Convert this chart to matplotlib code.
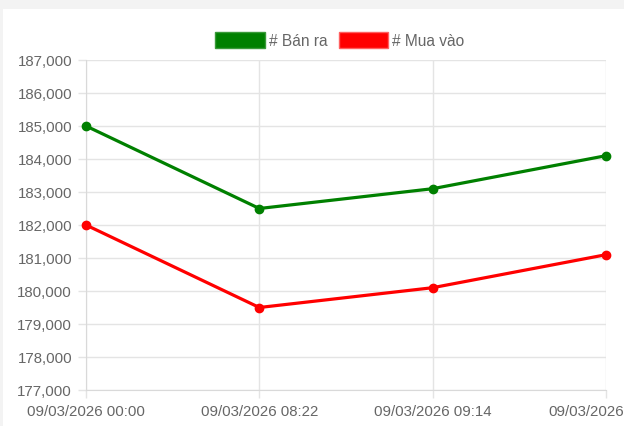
import matplotlib; matplotlib.use("Agg")
import matplotlib.pyplot as plt
import matplotlib.patches as mpatches
import matplotlib.ticker as ticker
from matplotlib.transforms import ScaledTranslation

# data
times    = ["09/03/2026 00:00", "09/03/2026 08:22", "09/03/2026 09:14", "09/03/2026"]
ban_ra   = [185000, 182500, 183100, 184100]
mua_vao  = [182000, 179500, 180100, 181100]

GREEN = "#008000"; RED = "#ff0000"; GRID = "#e4e4e4"; TXT = "#666666"

plt.rcParams["font.family"] = ["Liberation Sans", "DejaVu Sans"]

fig = plt.figure(figsize=(6.24, 4.27), dpi=100, facecolor="#f3f3f3")
fig.add_artist(mpatches.Rectangle((3/624, 0), 1, 1 - 10/427, transform=fig.transFigure,
                                  facecolor="white", edgecolor="none", zorder=-5))

ax = fig.add_axes([86/624, 36/427, 520/624, 330/427])
ax.set_zorder(2)
ax.set_facecolor("none")
x = range(len(times))
ax.plot(x, ban_ra, color=GREEN, lw=2.3, marker="o", ms=6, zorder=3, clip_on=False)
ax.plot(x, mua_vao, color=RED, lw=2.3, marker="o", ms=6, zorder=3, clip_on=False)

ax.set_xlim(0, len(times) - 1)
ax.set_ylim(177000, 187000)
ax.yaxis.set_major_locator(ticker.MultipleLocator(1000))
ax.yaxis.set_major_formatter(ticker.FuncFormatter(lambda v, p: f"{int(v):,}"))
ax.set_xticks(list(x))
ax.set_xticklabels(times)

ax.grid(True, color=GRID, lw=1)
for s in ax.spines.values():
    s.set_visible(False)
ax.spines["left"].set_visible(True); ax.spines["left"].set_color("#d9d9d9")
ax.spines["bottom"].set_visible(True); ax.spines["bottom"].set_color("#d9d9d9")
ax.tick_params(axis="both", colors=GRID, labelcolor=TXT, labelsize=10.8, length=6, width=1)
ax.tick_params(axis="y", pad=4)
ax.tick_params(axis="x", pad=4)

# last label is cut by the page edge in the original; keep the visible part in place
last = ax.get_xticklabels()[-1]
last.set_horizontalalignment("left")
last.set_transform(last.get_transform() + ScaledTranslation(-0.58, 0, fig.dpi_scale_trans))

handles = [mpatches.Patch(facecolor=GREEN, edgecolor="#3a9a3a", label="# Bán ra"),
           mpatches.Patch(facecolor=RED, edgecolor="#ff6060", label="# Mua vào")]
fig.legend(handles=handles, loc="center", bbox_to_anchor=(340/624, 1 - 41/427), ncol=2,
           frameon=False, fontsize=11.2, handlelength=3.2, handleheight=1.3,
           handletextpad=0.25, columnspacing=0.7, labelcolor=TXT)

fig.savefig("out.png", dpi=100, facecolor=fig.get_facecolor())
